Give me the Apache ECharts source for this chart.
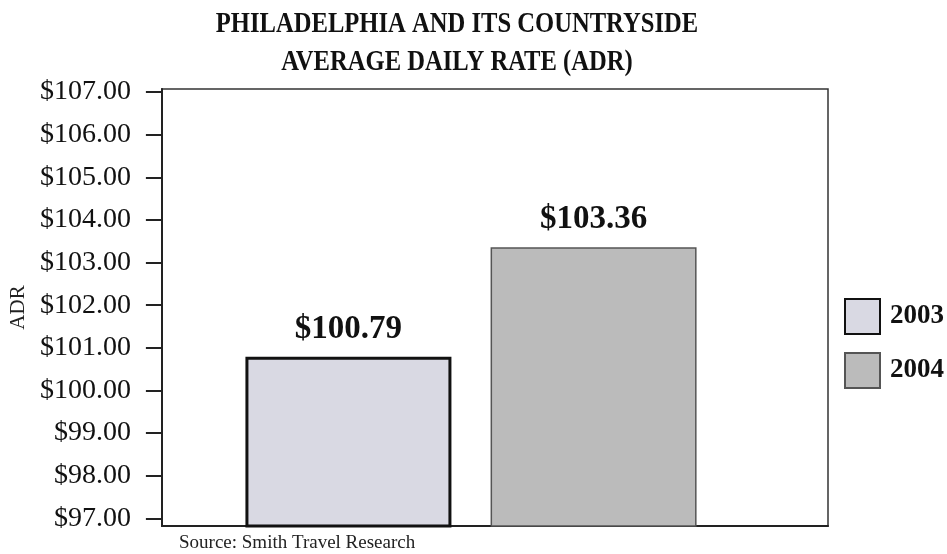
<!DOCTYPE html>
<html>
<head>
<meta charset="utf-8">
<script src="https://cdn.jsdelivr.net/npm/echarts@6/dist/echarts.min.js"></script>
<style>
  html, body { margin: 0; padding: 0; background: #fff; }
  #chart { width: 947px; height: 554px; }
</style>
</head>
<body>
<div id="chart"></div>
<script>
// Average daily rate, Philadelphia and its Countryside
const years = ['2003', '2004'];
const adrValues = [100.79, 103.36];
const tickValues = [97, 98, 99, 100, 101, 102, 103, 104, 105, 106, 107];
const titleLines = ['PHILADELPHIA AND ITS COUNTRYSIDE', 'AVERAGE DAILY RATE (ADR)'];
const barColors = ['#d9d9e3', '#bbbbbb'];
const barBorders = ['#111111', '#555555'];
const barBorderWidths = [3, 1.5];

const serif = '"Liberation Serif", "Times New Roman", serif';
const money = v => '$' + Number(v).toFixed(2);

const yMin = 96.82, yMax = 107.07;

const chart = echarts.init(document.getElementById('chart'));

const series = years.map((y, i) => ({
  name: y,
  type: 'bar',
  xAxisIndex: 1,
  yAxisIndex: 1,
  barWidth: 206,
  barGap: '19%',
  data: [adrValues[i]],
  itemStyle: {
    color: barColors[i],
    borderColor: barBorders[i],
    borderWidth: barBorderWidths[i]
  },
  label: {
    show: true,
    position: 'top',
    distance: 11,
    formatter: p => money(p.value),
    fontFamily: serif,
    fontWeight: 'bold',
    fontSize: 33,
    color: '#111'
  }
}));

// Condensed bold heading, two centred lines
const titleGraphics = titleLines.map((line, i) => ({
  type: 'text',
  x: 457,
  y: 9 + i * 38,
  scaleX: 0.82,
  style: {
    text: line,
    font: 'bold 30px ' + serif,
    fill: '#111',
    textAlign: 'center',
    textVerticalAlign: 'top'
  }
}));

chart.setOption({
  animation: false,
  backgroundColor: '#ffffff',
  legend: {
    data: years,
    orient: 'vertical',
    left: 844,
    top: 298,
    padding: 0,
    itemWidth: 35,
    itemHeight: 35,
    itemGap: 17,
    icon: 'rect',
    textStyle: {
      fontFamily: serif,
      fontWeight: 'bold',
      fontSize: 27,
      color: '#111',
      padding: [0, 0, 0, 5]
    }
  },
  grid: [
    { left: 160, right: 119, top: 89, bottom: 28, show: true, borderColor: '#333', borderWidth: 1.5, backgroundColor: 'transparent' },
    { left: 160, right: 165, top: 89, bottom: 28 }
  ],
  xAxis: [
    { type: 'category', gridIndex: 0, data: [''], axisLine: { show: true, lineStyle: { color: '#222', width: 2 } }, axisTick: { show: false }, axisLabel: { show: false } },
    { type: 'category', gridIndex: 1, data: ['ADR'], show: false }
  ],
  yAxis: [
    {
      type: 'value',
      gridIndex: 0,
      min: yMin,
      max: yMax,
      name: 'ADR',
      nameLocation: 'middle',
      nameGap: 131,
      nameTextStyle: { fontFamily: serif, fontSize: 21, color: '#222' },
      axisLine: { show: true, lineStyle: { color: '#222', width: 2 } },
      axisTick: { show: true, length: 16, customValues: tickValues, lineStyle: { color: '#222', width: 2 } },
      axisLabel: {
        customValues: tickValues,
        formatter: money,
        margin: 31,
        fontFamily: serif,
        fontSize: 28,
        color: '#111'
      },
      splitLine: { show: false }
    },
    { type: 'value', gridIndex: 1, min: yMin, max: yMax, show: false, splitLine: { show: false } }
  ],
  graphic: titleGraphics.concat([
    {
      type: 'text',
      left: 179,
      top: 534,
      style: { text: 'Source: Smith Travel Research', fontFamily: serif, fontSize: 19, fill: '#222' }
    }
  ]),
  series: series
});
</script>
</body>
</html>
